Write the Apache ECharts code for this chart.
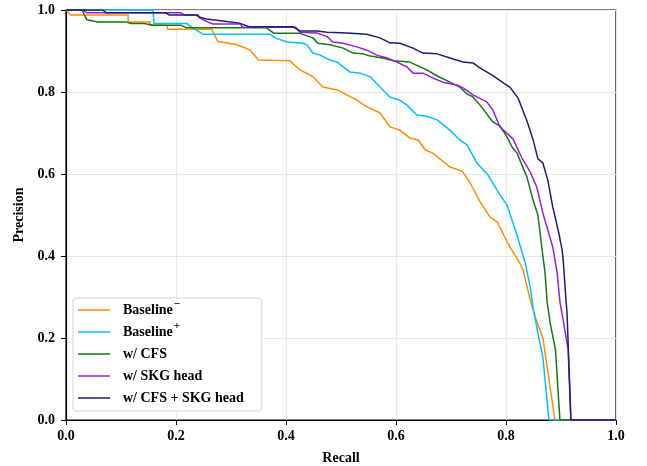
<!DOCTYPE html>
<html>
<head>
<meta charset="utf-8">
<script src="https://cdn.jsdelivr.net/npm/echarts@6/dist/echarts.min.js"></script>
<style>html,body{margin:0;padding:0;background:#fff;}#c{width:647px;height:466px;}</style>
</head>
<body>
<div id="c"></div>
<script>
const seriesNames = ['Baseline\u207B', 'Baseline\u207A', 'w/ CFS', 'w/ SKG head', 'w/ CFS + SKG head'];
const legendLabels = ['Baseline{sup|\u2212}', 'Baseline{sup|+}', 'w/ CFS', 'w/ SKG head', 'w/ CFS + SKG head'];
const xTicks = [0, 0.2, 0.4, 0.6, 0.8, 1.0];
const yTicks = [0, 0.2, 0.4, 0.6, 0.8, 1.0];

const baseMinusRecall = [0,0.008,0.113,0.113,0.153,0.153,0.183,0.185,0.265,0.276,0.31,0.335,0.35,0.407,0.425,0.44,0.449,0.467,0.493,0.529,0.547,0.571,0.589,0.607,0.625,0.64,0.653,0.667,0.698,0.72,0.735,0.753,0.771,0.784,0.807,0.825,0.831,0.844,0.853,0.867,0.889,1.0];
const baseMinusPrecision = [1.0,0.988,0.988,0.971,0.971,0.963,0.963,0.953,0.953,0.923,0.916,0.902,0.878,0.876,0.854,0.844,0.837,0.812,0.805,0.78,0.764,0.749,0.715,0.707,0.688,0.683,0.659,0.651,0.617,0.607,0.578,0.532,0.495,0.483,0.422,0.383,0.366,0.293,0.251,0.2,0.0,0.0];

const basePlusRecall = [0,0.158,0.16,0.22,0.231,0.249,0.371,0.38,0.402,0.431,0.438,0.449,0.462,0.48,0.493,0.516,0.535,0.553,0.571,0.589,0.607,0.62,0.638,0.656,0.675,0.698,0.716,0.729,0.747,0.767,0.789,0.802,0.82,0.835,0.844,0.849,0.858,0.867,0.878,1.0];
const basePlusPrecision = [1.0,1.0,0.967,0.967,0.956,0.941,0.941,0.932,0.922,0.919,0.915,0.895,0.89,0.878,0.873,0.849,0.846,0.837,0.812,0.788,0.78,0.768,0.744,0.741,0.732,0.707,0.683,0.671,0.627,0.598,0.549,0.524,0.451,0.383,0.324,0.276,0.212,0.154,0.0,0.0];

const cfsRecall = [0,0.029,0.038,0.058,0.109,0.118,0.142,0.158,0.209,0.218,0.364,0.378,0.413,0.425,0.449,0.458,0.48,0.504,0.522,0.54,0.553,0.576,0.595,0.625,0.656,0.675,0.698,0.716,0.729,0.74,0.753,0.776,0.789,0.802,0.811,0.82,0.838,0.849,0.858,0.865,0.871,0.875,0.881,0.89,0.898,1.0];
const cfsPrecision = [1.0,1.0,0.976,0.971,0.971,0.967,0.967,0.963,0.963,0.957,0.957,0.943,0.943,0.943,0.932,0.919,0.915,0.907,0.895,0.893,0.888,0.883,0.876,0.873,0.854,0.839,0.824,0.812,0.795,0.788,0.768,0.727,0.717,0.69,0.666,0.651,0.593,0.537,0.5,0.422,0.359,0.285,0.232,0.171,0.0,0.0];

const skgRecall = [0,0.03,0.038,0.209,0.215,0.236,0.249,0.267,0.318,0.32,0.418,0.425,0.456,0.475,0.485,0.504,0.529,0.547,0.565,0.584,0.602,0.62,0.631,0.649,0.667,0.685,0.711,0.722,0.74,0.765,0.776,0.789,0.813,0.822,0.829,0.844,0.856,0.867,0.885,0.893,0.898,0.907,0.913,0.918,1.0];
const skgPrecision = [1.0,1.0,0.993,0.993,0.988,0.988,0.976,0.966,0.966,0.958,0.958,0.946,0.944,0.935,0.922,0.919,0.91,0.902,0.89,0.883,0.873,0.861,0.846,0.846,0.834,0.824,0.817,0.81,0.793,0.776,0.756,0.715,0.685,0.659,0.639,0.605,0.568,0.505,0.422,0.359,0.289,0.22,0.171,0.0,0.0];

const bothRecall = [0,0.067,0.073,0.182,0.187,0.24,0.242,0.255,0.285,0.315,0.333,0.413,0.425,0.456,0.475,0.511,0.547,0.571,0.589,0.607,0.631,0.649,0.675,0.698,0.722,0.74,0.753,0.775,0.795,0.807,0.822,0.838,0.849,0.858,0.867,0.876,0.885,0.896,0.902,0.904,0.909,0.911,0.918,1.0];
const bothPrecision = [1.0,1.0,0.993,0.993,0.988,0.988,0.983,0.978,0.973,0.968,0.959,0.959,0.949,0.949,0.946,0.944,0.941,0.932,0.92,0.919,0.907,0.895,0.893,0.883,0.873,0.871,0.858,0.841,0.822,0.812,0.785,0.73,0.685,0.637,0.627,0.585,0.52,0.456,0.415,0.39,0.293,0.261,0.0,0.0];

const colors = ['#ff8c00', '#00bfff', '#137a13', '#9a1ee0', '#1e1e6e'];
const recallArrays = [baseMinusRecall, basePlusRecall, cfsRecall, skgRecall, bothRecall];
const precisionArrays = [baseMinusPrecision, basePlusPrecision, cfsPrecision, skgPrecision, bothPrecision];

const font = 'Liberation Serif, Times New Roman, serif';
const chart = echarts.init(document.getElementById('c'), null, {renderer: 'canvas'});
const series = seriesNames.map((name, i) => ({
  name: name,
  type: 'line',
  symbol: 'none',
  showSymbol: false,
  smooth: false,
  animation: false,
  lineStyle: {color: colors[i], width: 1.5},
  itemStyle: {color: colors[i]},
  data: recallArrays[i].map((r, j) => [r, precisionArrays[i][j]]),
  z: 2 + i
}));

chart.setOption({
  animation: false,
  backgroundColor: '#fff',
  grid: {left: 66, right: 31, top: 10, bottom: 46, containLabel: false, outerBoundsMode: 'none', show: true, borderColor: '#000', borderWidth: 1.2, backgroundColor: 'transparent'},
  legend: {
    orient: 'vertical',
    left: 73, top: 298,
    padding: [1, 18, 2, 5],
    itemGap: 0,
    itemWidth: 32, itemHeight: 1.5,
    icon: 'rect',
    backgroundColor: '#fff',
    borderColor: '#d4d4d4', borderWidth: 1, borderRadius: 3,
    formatter: name => legendLabels[seriesNames.indexOf(name)],
    textStyle: {
      fontFamily: font, fontWeight: 'bold', fontSize: 14, color: '#000', padding: [0, 0, 0, 8], lineHeight: 22,
      rich: {
        sup: {fontFamily: font, fontWeight: 'bold', fontSize: 11, color: '#000', verticalAlign: 'top', lineHeight: 16, padding: [0, 0, 0, 1]}
      }
    },
    data: seriesNames
  },
  xAxis: {
    type: 'value', min: 0, max: 1, interval: 0.2,
    name: 'Recall', nameLocation: 'middle', nameGap: 31,
    nameTextStyle: {fontFamily: font, fontWeight: 'bold', fontSize: 14, color: '#000'},
    axisLine: {show: true, onZero: false, lineStyle: {color: '#000', width: 1.2}},
    axisTick: {show: true, length: 5, lineStyle: {color: '#000'}},
    axisLabel: {fontFamily: font, fontWeight: 'bold', fontSize: 14, color: '#000', margin: 9, formatter: v => v.toFixed(1)},
    splitLine: {show: true, lineStyle: {color: '#e8e8e8', width: 1}}
  },
  yAxis: {
    type: 'value', min: 0, max: 1, interval: 0.2,
    name: 'Precision', nameLocation: 'middle', nameGap: 32,
    nameTextStyle: {fontFamily: font, fontWeight: 'bold', fontSize: 14, color: '#000'},
    axisLine: {show: true, onZero: false, lineStyle: {color: '#000', width: 1.2}},
    axisTick: {show: true, length: 5, lineStyle: {color: '#000'}},
    axisLabel: {fontFamily: font, fontWeight: 'bold', fontSize: 14, color: '#000', margin: 11, formatter: v => v.toFixed(1)},
    splitLine: {show: true, lineStyle: {color: '#e8e8e8', width: 1}}
  },
  series: series
});
</script>
</body>
</html>
